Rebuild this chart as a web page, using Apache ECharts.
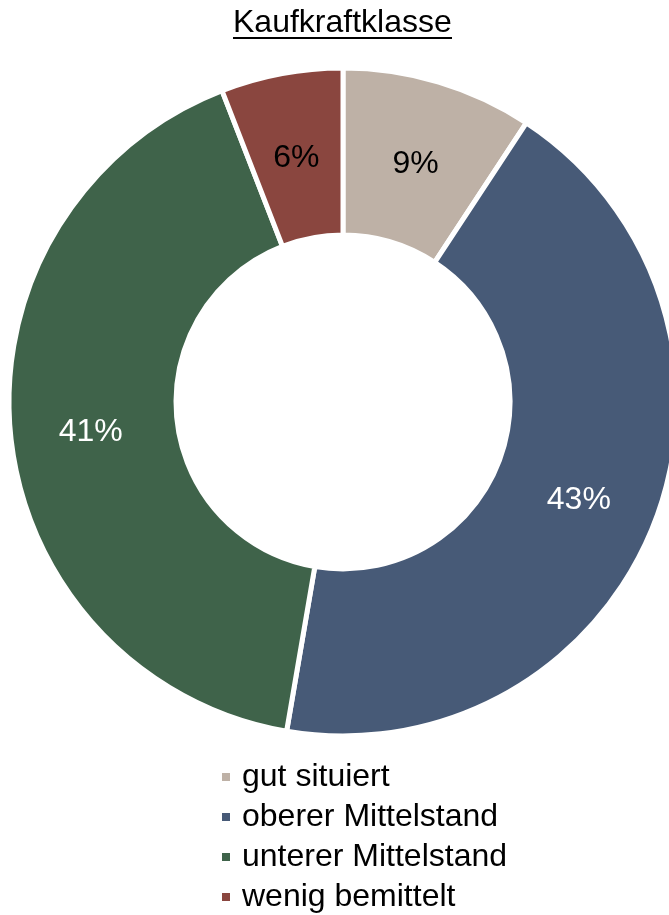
<!DOCTYPE html>
<html>
<head>
<meta charset="utf-8">
<script src="https://cdn.jsdelivr.net/npm/echarts@6/dist/echarts.min.js"></script>
<style>
  html, body { margin: 0; padding: 0; background: #fff; }
  #chart { width: 669px; height: 915px; }
</style>
</head>
<body>
<div id="chart"></div>
<script>
// Kaufkraftklasse - Anteile (aus dem Bild abgeschätzt)
var categories = ['gut situiert', 'oberer Mittelstand', 'unterer Mittelstand', 'wenig bemittelt'];
var values = [9.25, 43.45, 41.4, 5.9];
var colors = ['#BEB1A6', '#475A77', '#3F634A', '#8A463F'];
var labelColors = ['#000', '#fff', '#fff', '#000'];
var titleText = 'Kaufkraftklasse';

var font = 'Liberation Sans, Arial, sans-serif';

var chart = echarts.init(document.getElementById('chart'));

var option = {
  backgroundColor: '#fff',
  animation: false,
  graphic: [{
    type: 'text',
    left: 233,
    top: 7,
    style: { text: titleText, font: '32px ' + font, fill: '#000' }
  }, {
    type: 'line',
    shape: { x1: 233, y1: 38, x2: 452, y2: 38 },
    style: { stroke: '#000', lineWidth: 2 }
  }],
  legend: {
    orient: 'vertical',
    left: 220,
    top: 761,
    padding: 0,
    itemWidth: 10,
    itemHeight: 10,
    itemGap: 8,
    icon: 'rect',
    data: categories,
    textStyle: { fontFamily: font, fontSize: 32, lineHeight: 32, color: '#000', padding: [0, 0, 0, 6] }
  },
  series: [{
    type: 'pie',
    center: [343, 402],
    radius: [167, 334],
    startAngle: 90,
    clockwise: true,
    avoidLabelOverlap: false,
    itemStyle: { borderColor: '#fff', borderWidth: 5 },
    label: {
      show: true,
      position: 'inside',
      fontFamily: font,
      fontSize: 32,
      offset: [0, 5],
      textBorderWidth: 0,
      formatter: function (p) { return Math.round(p.percent) + '%'; }
    },
    labelLine: { show: false },
    emphasis: { disabled: true },
    data: categories.map(function (name, i) {
      return {
        name: name,
        value: values[i],
        itemStyle: { color: colors[i] },
        label: { color: labelColors[i] }
      };
    })
  }]
};

chart.setOption(option);
</script>
</body>
</html>
